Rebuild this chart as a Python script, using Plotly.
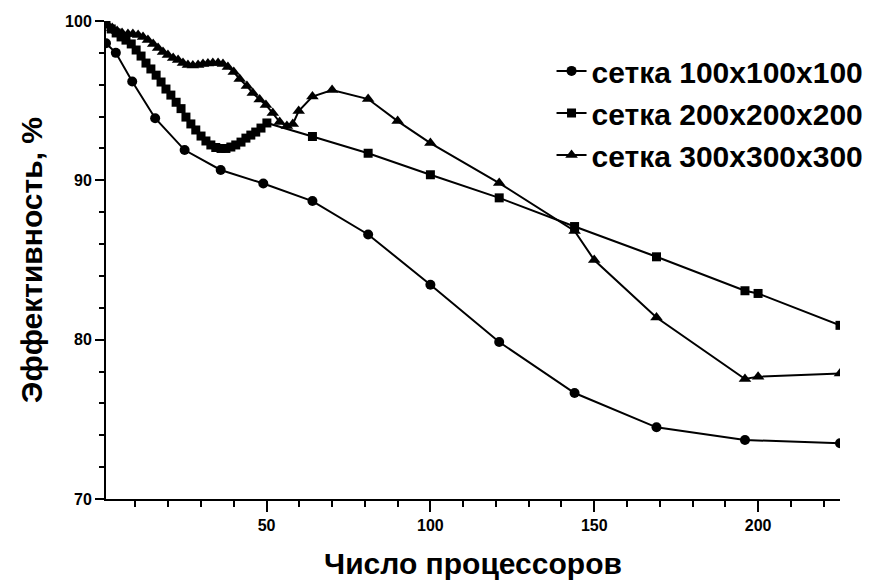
import plotly.graph_objects as go

# Series 1: сетка 100x100x100 (circles)
x_100 = [1, 4, 9, 16, 25, 36, 49, 64, 81, 100, 121, 144, 169, 196, 225]
y_100 = [98.6, 98.0, 96.2, 93.9, 91.9, 90.65, 89.8, 88.7, 86.6, 83.45, 79.85, 76.65, 74.5, 73.7, 73.5]

# Series 2: сетка 200x200x200 (squares)
x_200 = [1.0, 2.6, 4.1, 5.6, 7.1, 8.7, 10.2, 11.7, 13.2, 14.7, 16.3, 17.8, 19.3, 20.8,
         22.4, 23.9, 25.4, 26.9, 28.4, 30.0, 31.5, 33.0, 34.5, 36.1, 37.6, 39.1, 40.6,
         42.2, 43.7, 45.2, 46.7, 48.3, 50.1, 64, 81, 100, 121, 144, 169, 196, 200, 225]
y_200 = [99.81, 99.5, 99.25, 99.0, 98.8, 98.56, 98.18, 97.8, 97.36, 96.99, 96.6, 96.17,
         95.73, 95.35, 94.9, 94.5, 93.97, 93.54, 93.16, 92.78, 92.47, 92.22, 92.06, 92.0,
         92.0, 92.09, 92.22, 92.4, 92.65, 92.84, 93.03, 93.28, 93.6, 92.75, 91.7, 90.35,
         88.9, 87.1, 85.2, 83.07, 82.9, 80.9]

# Series 3: сетка 300x300x300 (triangles)
x_300 = [1.3, 2.9, 4.4, 5.9, 7.7, 9.2, 10.8, 12.3, 13.8, 15.4, 16.9, 18.4, 19.9, 21.5,
         23.0, 24.5, 26.0, 27.5, 29.1, 30.6, 32.1, 33.6, 35.2, 36.7, 38.2, 40.0, 41.8,
         44.0, 45.8, 47.9, 49.8, 51.9, 54.0, 56.2, 58.0, 59.8, 64, 70, 81, 90, 100, 121,
         144, 150, 169, 196, 200, 225]
y_300 = [99.81, 99.56, 99.37, 99.25, 99.18, 99.18, 99.12, 99.0, 98.8, 98.56, 98.3, 98.05,
         97.87, 97.68, 97.55, 97.36, 97.24, 97.2, 97.24, 97.3, 97.33, 97.36, 97.36, 97.3,
         97.11, 96.8, 96.36, 95.92, 95.48, 95.07, 94.73, 94.22, 93.66, 93.41, 93.53, 94.35,
         95.26, 95.67, 95.1, 93.72, 92.34, 89.83, 86.82, 85.0, 81.39, 77.53, 77.68, 77.87]

names = ["сетка 100x100x100", "сетка 200x200x200", "сетка 300x300x300"]
x_ticks = [50, 100, 150, 200]
y_ticks = [70, 80, 90, 100]

FONT = "Liberation Sans, Arial, sans-serif"

fig = go.Figure()
series = [(x_100, y_100, "circle", 10), (x_200, y_200, "square", 9), (x_300, y_300, "triangle-up", 11)]
for i, (xs, ys, sym, sz) in enumerate(series):
    fig.add_trace(go.Scatter(
        x=xs, y=ys, mode="lines+markers", name=names[i], legendgroup=str(i),
        line=dict(color="black", width=2),
        marker=dict(symbol=sym, size=sz, color="black"),
    ))

fig.update_layout(
    width=870, height=583,
    margin=dict(l=106, r=30, t=21, b=84, autoexpand=False),
    paper_bgcolor="white", plot_bgcolor="white",
    font=dict(family=FONT, color="black", weight="bold"),
    legend=dict(
        x=0.607, y=0.950, xanchor="left", yanchor="top",
        font=dict(size=30, family=FONT, color="black", weight="bold"),
        bgcolor="rgba(0,0,0,0)", itemwidth=30, tracegroupgap=0,
    ),
    xaxis=dict(
        range=[1, 225], showgrid=False, zeroline=False, automargin=False,
        showline=True, linecolor="black", linewidth=2,
        tickmode="array", tickvals=x_ticks, ticks="outside", ticklen=11, tickwidth=2,
        tickcolor="black", tickfont=dict(size=16, family=FONT, weight="bold"),
        minor=dict(dtick=10, tick0=0, ticks="outside", ticklen=6, tickwidth=2, tickcolor="black"),
        title=dict(text="Число процессоров", font=dict(size=30, family=FONT, weight="bold"), standoff=20),
    ),
    yaxis=dict(
        range=[70, 100], showgrid=False, zeroline=False, automargin=False,
        showline=True, linecolor="black", linewidth=2,
        tickmode="array", tickvals=y_ticks, ticks="outside", ticklen=9, tickwidth=2,
        tickcolor="black", tickfont=dict(size=16, family=FONT, weight="bold"),
        minor=dict(dtick=2, tick0=70, ticks="outside", ticklen=5, tickwidth=2, tickcolor="black"),
        title=dict(text="Эффективность, %", font=dict(size=30, family=FONT, weight="bold"), standoff=14),
    ),
)

fig.write_html("out.html")
